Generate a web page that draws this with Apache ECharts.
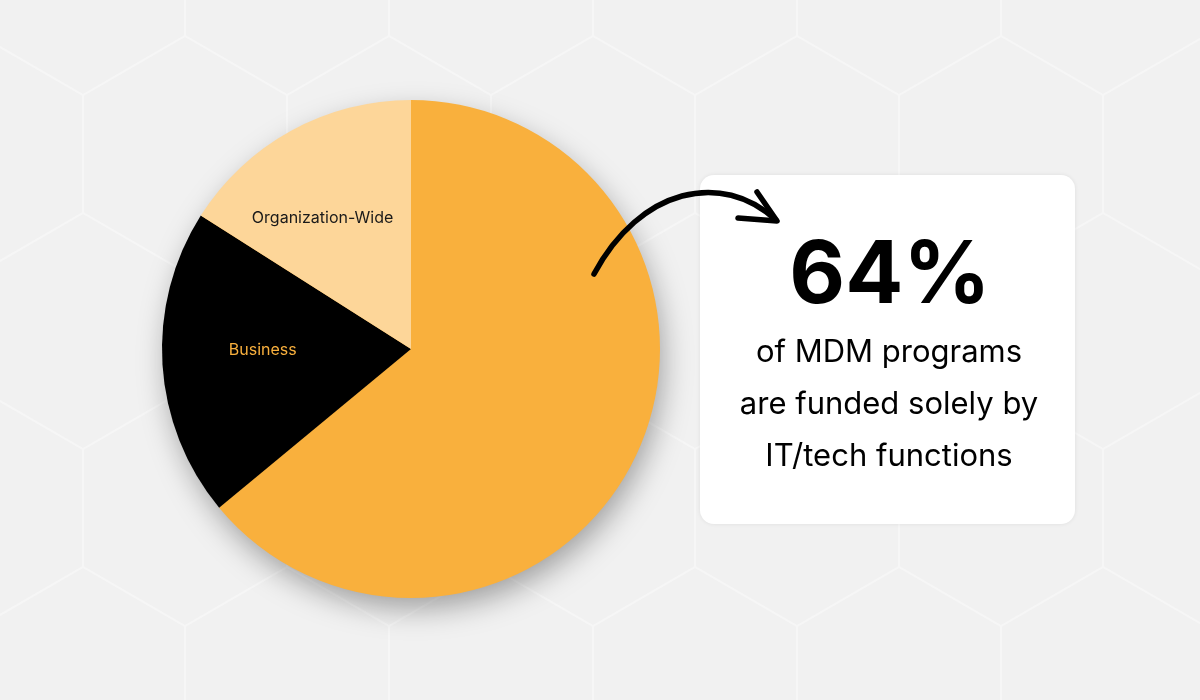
<!DOCTYPE html>
<html>
<head>
<meta charset="utf-8">
<script src="https://cdn.jsdelivr.net/npm/echarts@6/dist/echarts.min.js"></script>
<style>
  html, body { margin: 0; padding: 0; background: #f1f1f1; }
  #chart { width: 1200px; height: 700px; }
</style>
</head>
<body>
<div id="chart"></div>
<script>
  // funding share of MDM programs
  var categories = ['IT/Tech', 'Business', 'Organization-Wide']
  var shares = [64, 20, 16]
  var sliceColors = ['#f9b03d', '#000000', '#fdd699']
  var showLabel = [false, true, true]
  var labelColors = ['#000000', '#f9b03d', '#1a1a1a']
  var labelOffsets = [[0, 0], [-21, -7], [-27, -19]]

  var headline = '64%'
  var bodyLines = ['of MDM programs', 'are funded solely by', 'IT/tech functions']

  var pieCenter = [411, 349]
  var pieRadius = 249

  //背景六边形
  function hexLines () {
    var els = []
    var w = 204, half = 102, s = 118, step = 177
    for (var r = -1; r <= 4; r++) {
      var x0 = 83 + (((r % 2) + 2) % 2) * half
      var yTop = 95 + r * step
      // vertical edges
      for (var k = -1; k <= 7; k++) {
        var x = x0 + k * w
        els.push({ type: 'line', z: 0, silent: true,
          shape: { x1: x, y1: yTop, x2: x, y2: yTop + s },
          style: { stroke: '#f6f6f6', lineWidth: 2 } })
      }
      // zigzag below the row
      var pts = []
      for (var j = -2; j <= 14; j++) {
        pts.push([x0 + j * half, yTop + s + (j % 2 === 0 ? 0 : step - s)])
      }
      els.push({ type: 'polyline', z: 0, silent: true,
        shape: { points: pts },
        style: { stroke: '#f6f6f6', lineWidth: 2, fill: null } })
    }
    return els
  }

  var chart = echarts.init(document.getElementById('chart'))

  var graphics = hexLines()
  // pie shadow
  graphics.push({ type: 'circle', z: 1, silent: true,
    shape: { cx: pieCenter[0], cy: pieCenter[1], r: pieRadius - 2 },
    style: { fill: '#f9b03d', shadowBlur: 30, shadowOffsetX: 4, shadowOffsetY: 12, shadowColor: 'rgba(0,0,0,0.35)' } })
  // card
  graphics.push({ type: 'rect', z: 1, silent: true,
    shape: { x: 700, y: 175, width: 375, height: 349, r: 14 },
    style: { fill: '#ffffff', shadowBlur: 4, shadowColor: 'rgba(0,0,0,0.08)' } })
  // arrow
  graphics.push({ type: 'bezierCurve', z: 5, silent: true,
    shape: { x1: 594, y1: 274, cpx1: 640, cpy1: 188, cpx2: 722, cpy2: 170, x2: 776, y2: 220 },
    style: { stroke: '#000', lineWidth: 5.5, fill: null, lineCap: 'round' } })
  graphics.push({ type: 'polyline', z: 5, silent: true,
    shape: { points: [[757, 192], [777, 221], [738, 218]] },
    style: { stroke: '#000', lineWidth: 5.5, fill: null, lineCap: 'round', lineJoin: 'round' } })
  // card text
  graphics.push({ type: 'text', z: 5, silent: true, x: 890, y: 320,
    style: { text: headline, fill: '#000', font: '700 86px Inter', textAlign: 'center', textVerticalAlign: 'bottom' } })
  for (var i = 0; i < bodyLines.length; i++) {
    graphics.push({ type: 'text', z: 5, silent: true, x: 889, y: 353 + i * 52,
      style: { text: bodyLines[i], fill: '#000', font: '400 31px Inter', textAlign: 'center', textVerticalAlign: 'middle' } })
  }

  var pieData = categories.map(function (name, idx) {
    return {
      name: name,
      value: shares[idx],
      itemStyle: { color: sliceColors[idx] },
      label: {
        show: showLabel[idx],
        color: labelColors[idx],
        offset: labelOffsets[idx]
      }
    }
  })

  var option = {
    backgroundColor: '#f1f1f1',
    animation: false,
    graphic: { elements: graphics },
    series: [
      {
        name: 'Funding',
        type: 'pie',
        z: 3,
        center: pieCenter,
        radius: pieRadius,
        startAngle: 90,
        clockwise: true,
        silent: true,
        label: {
          position: 'inside',
          fontFamily: 'Inter',
          fontSize: 16,
          formatter: '{b}'
        },
        labelLine: { show: false },
        itemStyle: { borderWidth: 0 },
        data: pieData
      }
    ]
  }
  chart.setOption(option, true)
</script>
</body>
</html>
